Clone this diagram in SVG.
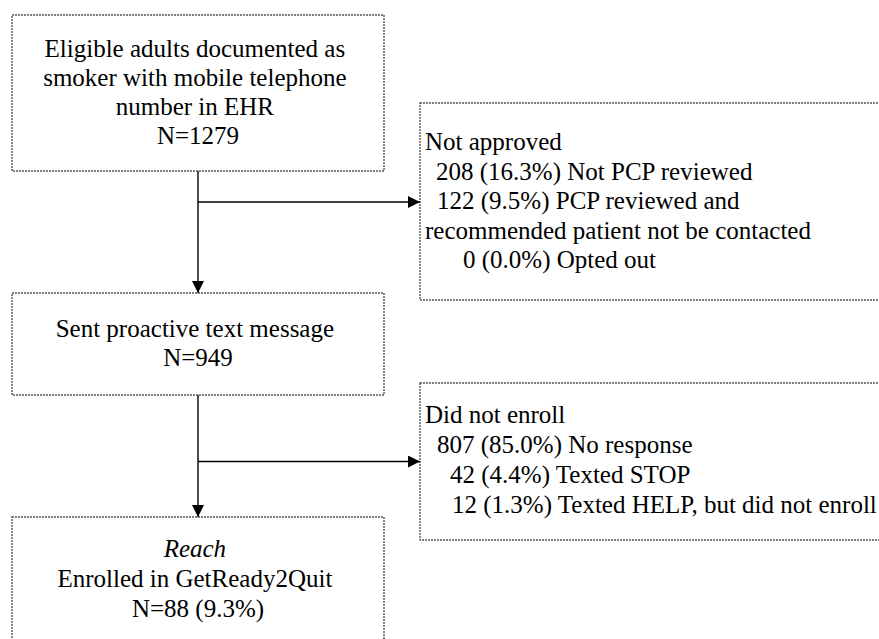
<svg xmlns="http://www.w3.org/2000/svg" width="879" height="639" viewBox="0 0 879 639">
  <style>
    .box { fill: #ffffff; stroke: #555555; stroke-width: 1.4; stroke-dasharray: 2 1; }
    .mid { text-anchor: middle; }
    .line { fill: none; stroke: #000000; stroke-width: 1.4; }
  </style>
  <defs>
    <marker id="arrow" viewBox="0 0 12 12" refX="12" refY="6" markerWidth="12" markerHeight="12" markerUnits="userSpaceOnUse" orient="auto">
      <path d="M0,0 L12,6 L0,12 Z" fill="#000000"/>
    </marker>
  </defs>
  <rect width="879" height="639" fill="#ffffff"/>

  <g font-family="'Liberation Serif', 'Times New Roman', 'DejaVu Serif', serif" font-size="25" fill="#000000">
    <!-- main flow boxes -->
    <g id="eligible">
      <rect class="box" x="12" y="15" width="372" height="156"/>
      <text class="mid">
        <tspan x="198" y="57">Eligible adults documented as</tspan>
        <tspan x="198" y="86">smoker with mobile telephone</tspan>
        <tspan x="198" y="115">number in EHR</tspan>
        <tspan x="198" y="144">N=1279</tspan>
      </text>
    </g>

    <g id="sent">
      <rect class="box" x="12" y="293" width="372" height="102"/>
      <text class="mid">
        <tspan x="198" y="337">Sent proactive text message</tspan>
        <tspan x="198" y="366">N=949</tspan>
      </text>
    </g>

    <g id="reach">
      <rect class="box" x="12" y="517" width="372" height="140"/>
      <text class="mid">
        <tspan x="198" y="557" font-style="italic">Reach</tspan>
        <tspan x="198" y="587">Enrolled in GetReady2Quit</tspan>
        <tspan x="198" y="617">N=88 (9.3%)</tspan>
      </text>
    </g>

    <!-- exclusion boxes -->
    <g id="not-approved">
      <rect class="box" x="420" y="103" width="480" height="197"/>
      <text>
        <tspan x="425" y="150">Not approved</tspan>
        <tspan x="436" y="179.5">208 (16.3%) Not PCP reviewed</tspan>
        <tspan x="437" y="209">122 (9.5%) PCP reviewed and</tspan>
        <tspan x="425" y="238.5">recommended patient not be contacted</tspan>
        <tspan x="463" y="268">0 (0.0%) Opted out</tspan>
      </text>
    </g>

    <g id="did-not-enroll">
      <rect class="box" x="420" y="383" width="480" height="157"/>
      <text>
        <tspan x="425" y="423">Did not enroll</tspan>
        <tspan x="437" y="453">807 (85.0%) No response</tspan>
        <tspan x="450" y="483">42 (4.4%) Texted STOP</tspan>
        <tspan x="452" y="513">12 (1.3%) Texted HELP, but did not enroll</tspan>
      </text>
    </g>
  </g>

  <!-- connectors -->
  <g id="connectors">
    <path class="line" d="M198,171 V293" marker-end="url(#arrow)"/>
    <path class="line" d="M198,202 H420" marker-end="url(#arrow)"/>
    <path class="line" d="M198,395 V517" marker-end="url(#arrow)"/>
    <path class="line" d="M198,461.5 H420" marker-end="url(#arrow)"/>
  </g>
</svg>
